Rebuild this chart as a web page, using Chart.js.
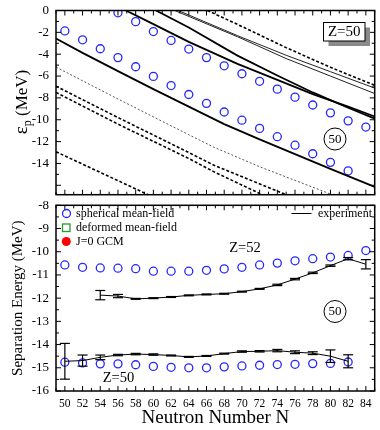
<!DOCTYPE html>
<html><head><meta charset="utf-8">
<script src="https://cdn.jsdelivr.net/npm/chart.js@4.4.0/dist/chart.umd.min.js"></script>
<style>
html,body{margin:0;padding:0;background:#fff;}
#wrap{position:relative;width:380px;height:430px;background:#fff;}
canvas{position:absolute;left:0;}
#c1{top:0;}
#c2{top:200px;}
</style></head><body>
<div id="wrap">
<canvas id="c1" width="380" height="200"></canvas>
<canvas id="c2" width="380" height="230"></canvas>
</div>
<script>
// ---------------- DATA ----------------
// Top panel: single-particle proton energies (MeV)
const spLowN = [50,52,54,56,58,60,62,64,66,68,70,72,74,76,78,80,82];
const spLowE = [-1.87,-2.68,-3.5,-4.31,-5.15,-6.03,-6.87,-7.69,-8.5,-9.29,-10.04,-10.79,-11.55,-12.33,-13.11,-13.9,-14.68];
const spUpN  = [56,58,60,62,64,66,68,70,72,74,76,78,80,82,84];
const spUpE  = [-0.21,-1.02,-1.93,-2.74,-3.53,-4.31,-5.06,-5.79,-6.48,-7.2,-7.93,-8.65,-9.37,-10.1,-10.67];

// Top panel level curves
const lvA_N = [49,52,56,60,64,68,72,76,80,85];
const lvA_E = [-2.56,-3.88,-5.55,-7.2,-8.8,-10.4,-11.8,-13.15,-14.5,-16.15];
const lvB_N = [56.9,60,64,69.5,74,78,82,85];
const lvB_E = [0,-1.25,-2.87,-4.88,-6.35,-7.65,-8.8,-9.7];
const lvC_N = [60.3,64,69.5,74,78,80,82,85];
const lvC_E = [0,-1.56,-4.13,-5.95,-7.5,-8.2,-8.9,-9.9];
const lvD_N = [66.1,69.5,75,80,85];
const lvD_E = [0,-1.27,-3.4,-5.2,-6.85];
const lvE1_N = [62.8,69.5,75,80,85];
const lvE1_E = [0,-2.3,-4.1,-5.6,-7.1];
const lvE2_N = [62.4,69.5,75,80,85];
const lvE2_E = [0,-2.4,-4.4,-6.0,-7.6];
const lvF_N = [49,56,64,66.8,72,76,80.2];
const lvF_E = [-5.18,-8.1,-11.37,-12.5,-14.3,-15.55,-16.86];
const lvF1_N = [49,56,64,66.8,75];
const lvF1_E = [-6.93,-9.8,-13.0,-14.15,-16.86];
const lvF2_N = [49,56,64,66.8,72.3];
const lvF2_E = [-7.5,-10.4,-13.55,-14.75,-16.86];
const lvG_N = [49,59.4];
const lvG_E = [-12.93,-16.86];

// Bottom panel: separation energies (MeV)
const sphZ52N = [50,52,54,56,58,60,62,64,66,68,70,72,74,76,78,80,82,84];
const sphZ52  = [-10.57,-10.67,-10.7,-10.71,-10.73,-10.84,-10.84,-10.84,-10.8,-10.74,-10.67,-10.57,-10.49,-10.39,-10.3,-10.23,-10.16,-9.95];
const sphZ50N = [50,52,54,56,58,60,62,64,66,68,70,72,74,76,78,80,82];
const sphZ50  = [-14.76,-14.79,-14.83,-14.83,-14.87,-14.94,-14.98,-15.0,-15.0,-14.96,-14.92,-14.89,-14.86,-14.85,-14.82,-14.81,-14.75];
const expZ52N = [54,56,58,60,62,64,66,68,70,72,74,76,78,80,82,84];
const expZ52  = [-11.87,-11.91,-12.03,-12.0,-11.95,-11.88,-11.84,-11.81,-11.72,-11.6,-11.43,-11.18,-10.91,-10.6,-10.3,-10.54];
const errZ52  = [0.2,0.07,0.02,0.02,0.02,0.02,0.02,0.02,0.02,0.02,0.03,0.03,0.03,0.03,0.05,0.2];
const expZ50N = [50,52,54,56,58,60,62,64,66,68,70,72,74,76,78,80,82];
const expZ50  = [-14.72,-14.69,-14.55,-14.45,-14.41,-14.43,-14.47,-14.53,-14.49,-14.39,-14.3,-14.29,-14.26,-14.33,-14.37,-14.5,-14.72];
const errZ50  = [0.77,0.24,0.1,0.03,0.03,0.03,0.02,0.02,0.02,0.02,0.03,0.03,0.05,0.06,0.06,0.27,0.28];

const legendLabels = ['spherical mean-field','deformed mean-field','J=0 GCM','experiment'];
const xTickLabels = [50,52,54,56,58,60,62,64,66,68,70,72,74,76,78,80,82,84];

// ---------------- STYLE ----------------
const FF = '"Liberation Serif","DejaVu Serif",serif';
Chart.defaults.font.family = FF;
Chart.defaults.color = '#000';
const BLUE = '#2626ff';

function pts(xs, ys){ return xs.map((x,i)=>({x:x, y:ys[i]})); }
function circleDS(xs, ys){
  return {data:pts(xs,ys), showLine:false, pointStyle:'circle', pointRadius:4,
    borderColor:BLUE, backgroundColor:'rgba(0,0,0,0)', pointBorderWidth:1.3, borderWidth:1.3};
}
function lineDS(xs, ys, w, color, dash){
  return {data:pts(xs,ys), showLine:true, pointRadius:0, borderColor:color,
    borderWidth:w, borderDash:dash||[], tension:0, fill:false};
}

function seg(ctx,x1,y1,x2,y2){ctx.beginPath();ctx.moveTo(x1,y1);ctx.lineTo(x2,y2);ctx.stroke();}

const frame = {
  id:'frame',
  afterDatasetsDraw(chart, args, o){
    const ctx = chart.ctx, a = chart.chartArea, x = chart.scales.x, y = chart.scales.y;
    ctx.save();
    ctx.strokeStyle = '#000'; ctx.lineWidth = 1;
    for (let n = 49; n <= 85; n++){
      const px = x.getPixelForValue(n), L = (n % 2 === 0) ? 5 : 3;
      seg(ctx, px, a.bottom, px, a.bottom - L);
      seg(ctx, px, a.top, px, a.top + L);
    }
    const steps = Math.round((o.ymax - o.ymin)/o.minor);
    for (let i = 0; i <= steps; i++){
      const v = o.ymin + i*o.minor;
      const r = v / o.major;
      const L = Math.abs(r - Math.round(r)) < 1e-6 ? 5 : 3;
      const py = y.getPixelForValue(v);
      seg(ctx, a.left, py, a.left + L, py);
      seg(ctx, a.right, py, a.right - L, py);
    }
    ctx.lineWidth = 1.5;
    ctx.strokeRect(a.left, a.top, a.right - a.left, a.bottom - a.top);
    ctx.restore();
  }
};

function circled(ctx, cx, cy, r, txt){
  ctx.beginPath(); ctx.arc(cx, cy, r, 0, Math.PI*2); ctx.lineWidth = 1; ctx.strokeStyle = '#000'; ctx.stroke();
  ctx.font = '13px ' + FF; ctx.textAlign = 'center'; ctx.textBaseline = 'middle'; ctx.fillStyle = '#000';
  ctx.fillText(txt, cx, cy + 0.5);
}

const topAnno = {
  id:'topAnno',
  afterDraw(chart){
    const ctx = chart.ctx;
    ctx.save();
    // y title: epsilon_p (MeV)
    ctx.translate(21, 102); ctx.rotate(-Math.PI/2);
    ctx.fillStyle = '#000'; ctx.textBaseline = 'alphabetic'; ctx.textAlign = 'left';
    const f1 = '19px ' + FF, f2 = '12px ' + FF, f3 = '17px ' + FF;
    ctx.font = f1; const w1 = ctx.measureText('\u03b5').width;
    ctx.font = f2; const w2 = ctx.measureText('p').width;
    ctx.font = f3; const w3 = ctx.measureText(' (MeV)').width;
    let x0 = -(w1 + w2 + w3)/2;
    ctx.font = f1; ctx.fillText('\u03b5', x0, 6); x0 += w1;
    ctx.font = f2; ctx.fillText('p', x0, 10); x0 += w2;
    ctx.font = f3; ctx.fillText(' (MeV)', x0, 6);
    ctx.restore();
    ctx.save();
    // Z=50 box with shadow
    ctx.fillStyle = '#8a8a8a'; ctx.fillRect(328.5, 27.5, 41.5, 18.5);
    ctx.fillStyle = '#fff'; ctx.fillRect(323.5, 22.5, 41.5, 18.5);
    ctx.strokeStyle = '#000'; ctx.lineWidth = 1; ctx.strokeRect(323.5, 22.5, 41.5, 18.5);
    ctx.fillStyle = '#000'; ctx.font = '15px ' + FF; ctx.textAlign = 'center'; ctx.textBaseline = 'middle';
    ctx.fillText('Z=50', 344.2, 32.5);
    circled(ctx, 335, 139, 11, '50');
    ctx.restore();
  }
};

const errBars = {
  id:'errBars',
  afterDatasetsDraw(chart){
    const ctx = chart.ctx, x = chart.scales.x, y = chart.scales.y;
    ctx.save(); ctx.strokeStyle = '#000'; ctx.lineWidth = 1.2;
    const sets = [[expZ52N, expZ52, errZ52],[expZ50N, expZ50, errZ50]];
    sets.forEach(s => {
      s[0].forEach((n, i) => {
        const px = x.getPixelForValue(n);
        const y1 = y.getPixelForValue(s[1][i] - s[2][i]);
        const y2 = y.getPixelForValue(s[1][i] + s[2][i]);
        seg(ctx, px, y1, px, y2);
        seg(ctx, px - 5, y1, px + 5, y1);
        seg(ctx, px - 5, y2, px + 5, y2);
      });
    });
    ctx.restore();
  }
};

const botAnno = {
  id:'botAnno',
  afterDraw(chart){
    const ctx = chart.ctx;
    ctx.save();
    ctx.fillStyle = '#000'; ctx.textBaseline = 'middle'; ctx.textAlign = 'left';
    ctx.font = '12px ' + FF;
    // legend
    ctx.beginPath(); ctx.arc(66.5, 13.5, 4, 0, Math.PI*2); ctx.strokeStyle = BLUE; ctx.lineWidth = 1.3; ctx.stroke();
    ctx.fillText(legendLabels[0], 76, 13.5);
    ctx.strokeStyle = '#2a9a2a'; ctx.lineWidth = 1.3; ctx.strokeRect(62.5, 24, 7.5, 7.5);
    ctx.fillText(legendLabels[1], 76, 27.5);
    ctx.beginPath(); ctx.arc(66.3, 41.5, 4.5, 0, Math.PI*2); ctx.fillStyle = '#ff0000'; ctx.fill();
    ctx.fillStyle = '#000'; ctx.fillText(legendLabels[2], 76, 41.5);
    ctx.strokeStyle = '#000'; ctx.lineWidth = 1; seg(ctx, 291.5, 13.5, 311.5, 13.5);
    ctx.fillText(legendLabels[3], 318, 13.5);
    // labels
    ctx.font = '14.5px ' + FF; ctx.textAlign = 'center';
    ctx.fillText('Z=52', 245, 48);
    ctx.fillText('Z=50', 118.5, 178);
    circled(ctx, 335, 111.5, 11, '50');
    ctx.restore();
  }
};

// ---------------- TOP CHART ----------------
new Chart(document.getElementById('c1'), {
  type:'scatter',
  data:{datasets:[
    lineDS(lvA_N, lvA_E, 1.8, '#000'),
    lineDS(lvB_N, lvB_E, 1.8, '#000'),
    lineDS(lvC_N, lvC_E, 1.8, '#000'),
    lineDS(lvD_N, lvD_E, 1.6, '#000', [3,2]),
    lineDS(lvE1_N, lvE1_E, 1, '#222'),
    lineDS(lvE2_N, lvE2_E, 1, '#222'),
    lineDS(lvF_N, lvF_E, 1, '#555', [2,2]),
    lineDS(lvF1_N, lvF1_E, 1.6, '#000', [3,2]),
    lineDS(lvF2_N, lvF2_E, 1.6, '#000', [3,2]),
    lineDS(lvG_N, lvG_E, 1.6, '#000', [3,2]),
    circleDS(spLowN, spLowE),
    circleDS(spUpN, spUpE)
  ]},
  options:{
    responsive:false, animation:false, events:[],
    layout:{padding:{top:10.5, right:1, bottom:2.5, left:0}},
    plugins:{legend:{display:false}, tooltip:{enabled:false},
      frame:{ymin:-16, ymax:0, minor:1, major:2}},
    scales:{
      x:{type:'linear', min:49, max:85, display:false},
      y:{type:'linear', min:-16.86, max:0,
        afterFit:(s)=>{s.width=56; s.paddingTop=0; s.paddingBottom=0;},
        grid:{display:false, drawTicks:false}, border:{display:false},
        ticks:{stepSize:2, autoSkip:false, padding:7, font:{size:13}, color:'#000',
          callback:(v)=>{const r=Math.round(v); return (Math.abs(v-r)<1e-6 && r%2===0) ? String(r) : '';}}
      }
    }
  },
  plugins:[frame, topAnno]
});

// ---------------- BOTTOM CHART ----------------
new Chart(document.getElementById('c2'), {
  type:'scatter',
  data:{datasets:[
    lineDS(expZ52N, expZ52, 1, '#000'),
    lineDS(expZ50N, expZ50, 1, '#000'),
    circleDS(sphZ52N, sphZ52),
    circleDS(sphZ50N, sphZ50)
  ]},
  options:{
    responsive:false, animation:false, events:[],
    layout:{padding:{top:1.5, right:1, bottom:0, left:0}},
    plugins:{legend:{display:false}, tooltip:{enabled:false},
      frame:{ymin:-16, ymax:-8, minor:0.5, major:1}},
    scales:{
      x:{type:'linear', min:49, max:85,
        afterFit:(s)=>{s.height=39; s.paddingLeft=0; s.paddingRight=0;},
        grid:{display:false, drawTicks:false}, border:{display:false},
        ticks:{stepSize:1, autoSkip:false, maxRotation:0, padding:6.5, font:{size:11.5}, color:'#000',
          callback:(v)=> xTickLabels.indexOf(v) >= 0 ? String(v) : ''},
        title:{display:true, text:'Neutron Number N', font:{size:19}, color:'#000', padding:{top:0, bottom:1}}
      },
      y:{type:'linear', min:-16, max:-8,
        afterFit:(s)=>{s.width=56; s.paddingTop=0; s.paddingBottom=0;},
        grid:{display:false, drawTicks:false}, border:{display:false},
        ticks:{stepSize:1, autoSkip:false, padding:7, font:{size:13}, color:'#000',
          callback:(v)=>{const r=Math.round(v); return Math.abs(v-r)<1e-6 ? String(r) : '';}},
        title:{display:true, text:'Separation Energy (MeV)', font:{size:15}, color:'#000', padding:{top:9.5, bottom:0}}
      }
    }
  },
  plugins:[frame, errBars, botAnno]
});
</script>
</body></html>
